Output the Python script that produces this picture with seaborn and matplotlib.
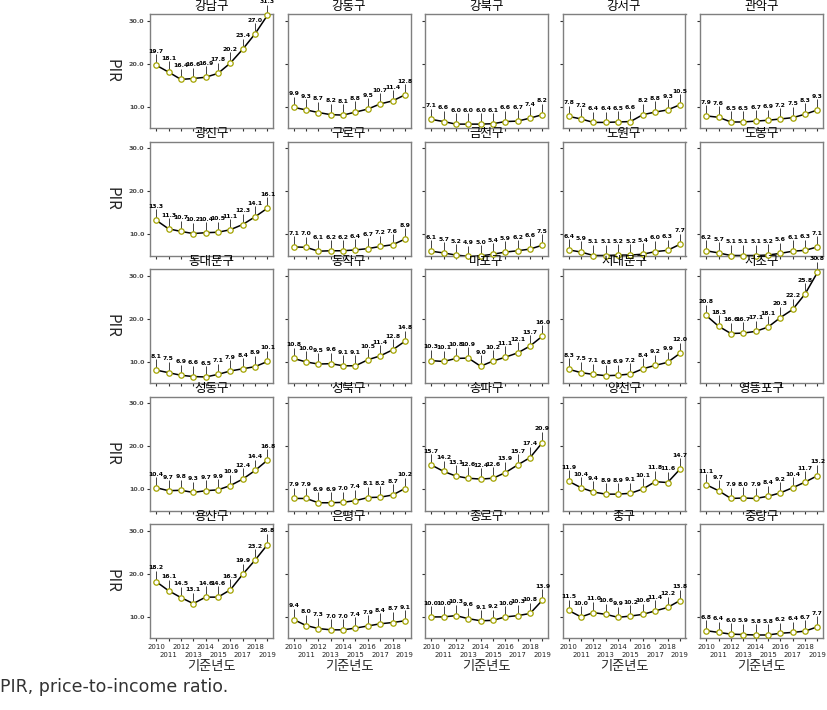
import matplotlib
matplotlib.use("Agg")
import matplotlib.pyplot as plt
import numpy as np
import pandas as pd
import seaborn as sns

years = list(range(2010, 2020))

gangnam = [19.7, 18.1, 16.4, 16.6, 16.9, 17.8, 20.2, 23.4, 27.0, 31.3]
gangdong = [9.9, 9.3, 8.7, 8.2, 8.1, 8.8, 9.5, 10.7, 11.4, 12.8]
gangbuk = [7.1, 6.6, 6.0, 6.0, 6.0, 6.1, 6.6, 6.7, 7.4, 8.2]
gangseo = [7.8, 7.2, 6.4, 6.4, 6.5, 6.6, 8.2, 8.8, 9.3, 10.5]
gwanak = [7.9, 7.6, 6.5, 6.5, 6.7, 6.9, 7.2, 7.5, 8.3, 9.3]
gwangjin = [13.3, 11.3, 10.7, 10.2, 10.4, 10.5, 11.1, 12.3, 14.1, 16.1]
guro = [7.1, 7.0, 6.1, 6.2, 6.2, 6.4, 6.7, 7.2, 7.6, 8.9]
geumcheon = [6.1, 5.7, 5.2, 4.9, 5.0, 5.4, 5.9, 6.2, 6.6, 7.5]
nowon = [6.4, 5.9, 5.1, 5.1, 5.2, 5.2, 5.4, 6.0, 6.3, 7.7]
dobong = [6.2, 5.7, 5.1, 5.1, 5.1, 5.2, 5.6, 6.1, 6.3, 7.1]
dongdaemun = [8.1, 7.5, 6.9, 6.6, 6.5, 7.1, 7.9, 8.4, 8.9, 10.1]
dongjak = [10.8, 10.0, 9.5, 9.6, 9.1, 9.1, 10.5, 11.4, 12.8, 14.8]
mapo = [10.3, 10.1, 10.8, 10.9, 9.0, 10.2, 11.1, 12.1, 13.7, 16.0]
seodaemun = [8.3, 7.5, 7.1, 6.8, 6.9, 7.2, 8.4, 9.2, 9.9, 12.0]
seocho = [20.8, 18.3, 16.6, 16.7, 17.1, 18.1, 20.3, 22.2, 25.8, 30.8]
seongdong = [10.4, 9.7, 9.8, 9.3, 9.7, 9.9, 10.9, 12.4, 14.4, 16.8]
seongbuk = [7.9, 7.9, 6.9, 6.9, 7.0, 7.4, 8.1, 8.2, 8.7, 10.2]
songpa = [15.7, 14.2, 13.1, 12.6, 12.4, 12.6, 13.9, 15.7, 17.4, 20.9]
yangcheon = [11.9, 10.4, 9.4, 8.9, 8.9, 9.1, 10.1, 11.8, 11.6, 14.7]
yeongdeungpo = [11.1, 9.7, 7.9, 8.0, 7.9, 8.4, 9.2, 10.4, 11.7, 13.2]
yongsan = [18.2, 16.1, 14.5, 13.1, 14.6, 14.6, 16.3, 19.9, 23.2, 26.8]
eunpyeong = [9.4, 8.0, 7.3, 7.0, 7.0, 7.4, 7.9, 8.4, 8.7, 9.1]
jongno = [10.0, 10.0, 10.3, 9.6, 9.1, 9.2, 10.0, 10.3, 10.8, 13.9]
junggu = [11.5, 10.0, 11.0, 10.6, 9.9, 10.2, 10.6, 11.4, 12.2, 13.8]
jungnang = [6.8, 6.4, 6.0, 5.9, 5.8, 5.8, 6.2, 6.4, 6.7, 7.7]

district_names = ["강남구", "강동구", "강북구", "강서구", "관악구",
                  "광진구", "구로구", "금천구", "노원구", "도봉구",
                  "동대문구", "동작구", "마포구", "서대문구", "서초구",
                  "성동구", "성북구", "송파구", "양천구", "영등포구",
                  "용산구", "은평구", "종로구", "중구", "중랑구"]
district_values = [gangnam, gangdong, gangbuk, gangseo, gwanak,
                   gwangjin, guro, geumcheon, nowon, dobong,
                   dongdaemun, dongjak, mapo, seodaemun, seocho,
                   seongdong, seongbuk, songpa, yangcheon, yeongdeungpo,
                   yongsan, eunpyeong, jongno, junggu, jungnang]

y_ticks = [10, 20, 30]
y_tick_labels = ["10.0", "20.0", "30.0"]

rows = []
for name, vals in zip(district_names, district_values):
    for yr, v in zip(years, vals):
        rows.append({"district": name, "year": yr, "PIR": v})
df = pd.DataFrame(rows)

sns.set_theme(style="white")
plt.rcParams["font.family"] = ["Noto Sans CJK KR", "DejaVu Sans"]

W, H = 827, 710
fig = plt.figure(figsize=(W / 100, H / 100), dpi=100)

col_left = [150, 287.5, 425, 562.5, 700]
row_top = [14, 141.5, 269, 396.5, 524]
pw, ph = 123, 114

even_years = [y for y in years if (y - 2010) % 2 == 0]
odd_years = [y for y in years if (y - 2010) % 2 == 1]

for i, name in enumerate(district_names):
    r, c = divmod(i, 5)
    l = col_left[c]
    t = row_top[r]
    ax = fig.add_axes([l / W, 1 - (t + ph) / H, pw / W, ph / H])
    sub = df[df["district"] == name]
    sns.lineplot(data=sub, x="year", y="PIR", ax=ax, color="black", lw=1.1, zorder=2)
    ax.vlines(sub["year"], sub["PIR"], sub["PIR"] + 2.5, color="#222222", lw=0.6,
              zorder=1, clip_on=False)
    sns.scatterplot(data=sub, x="year", y="PIR", ax=ax, s=15, facecolor="white",
                    edgecolor="#a3a300", linewidth=0.9, zorder=3, clip_on=False)
    for yr, v in zip(sub["year"], sub["PIR"]):
        ax.text(yr, v + 2.6, f"{v:.1f}", ha="center", va="bottom", fontsize=4.4,
                fontweight="bold", family="DejaVu Sans", color="black", clip_on=False)
    ax.set_xlim(2009.5, 2019.45)
    ax.set_ylim(5.1, 31.6)
    ax.set_title(name, fontsize=9, pad=3.0, color="black")
    for sp in ax.spines.values():
        sp.set_visible(True)
        sp.set_color("#7f7f7f")
        sp.set_linewidth(1.0)
    ax.set_yticks(y_ticks)
    ax.set_xticks(even_years)
    ax.set_xticks(odd_years, minor=True)
    ax.tick_params(axis="both", which="both", direction="out", length=2.5, width=0.8,
                   color="#333333", pad=1.5, bottom=True, left=True)
    if c == 0:
        ax.set_yticklabels(y_tick_labels, fontsize=4.6, fontweight="bold",
                           family="DejaVu Sans", color="#4d4d4d")
        ax.set_ylabel("PIR", fontsize=11, rotation=270, labelpad=12, va="center")
    else:
        ax.set_yticklabels([])
        ax.set_ylabel("")
    if r == 4:
        ax.set_xticklabels([str(y) for y in even_years], fontsize=5.0, color="#222222",
                           family="DejaVu Sans")
        ax.set_xticklabels([str(y) for y in odd_years], minor=True, fontsize=5.0,
                           color="#222222", family="DejaVu Sans")
        ax.tick_params(axis="x", which="minor", pad=7.5)
        ax.set_xlabel("기준년도", fontsize=9.5, labelpad=1.5)
    else:
        ax.set_xticklabels([])
        ax.set_xticklabels([], minor=True)
        ax.set_xlabel("")

fig.text(0, 14 / H, "PIR, price-to-income ratio.", fontsize=12.5, color="#333333",
         ha="left", va="bottom", family="DejaVu Sans")

fig.savefig("out.png", dpi=100)
